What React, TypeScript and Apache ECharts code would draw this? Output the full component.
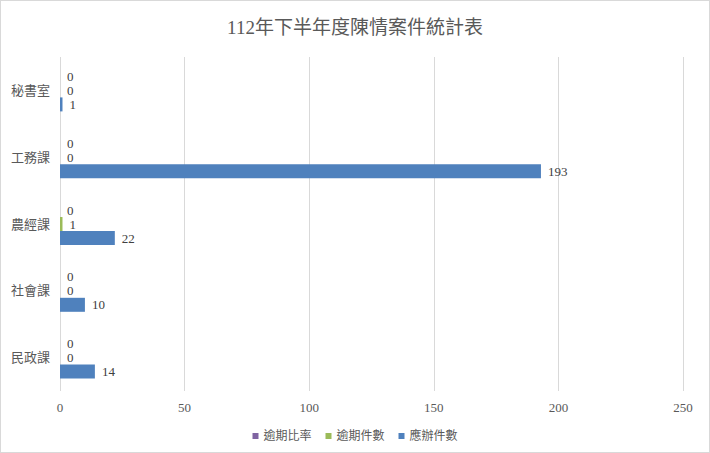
import React, { useEffect, useRef } from "react";
import * as echarts from "echarts";

const categories = ["民政課", "社會課", "農經課", "工務課", "秘書室"];
const overdueRate = [0, 0, 0, 0, 0];
const overdueCount = [0, 0, 1, 0, 0];
const totalCount = [14, 10, 22, 193, 1];
const xTicks = { min: 0, max: 250, interval: 50 };

const FONT = "'Liberation Serif', 'Noto Sans CJK TC', serif";

export default function App() {
  const ref = useRef<HTMLDivElement>(null);
  useEffect(() => {
    document.body.style.margin = "0";
    const chart = echarts.init(ref.current!, undefined, { renderer: "svg" });
    const label = {
      show: true,
      position: "right" as const,
      distance: 7,
      color: "#404040",
      fontSize: 13,
      fontFamily: FONT,
      textBorderWidth: 0,
    };
    chart.setOption({
      animation: false,
      backgroundColor: "#fff",
      title: {
        text: "112年下半年度陳情案件統計表",
        left: "center",
        top: 12,
        textStyle: { fontSize: 19, fontWeight: "normal", color: "#595959", fontFamily: FONT },
      },
      legend: {
        data: ["逾期比率", "逾期件數", "應辦件數"],
        left: "center",
        top: 424,
        icon: "rect",
        itemWidth: 6,
        itemHeight: 6,
        itemGap: 14,
        textStyle: { fontSize: 12, color: "#595959", fontFamily: FONT },
      },
      grid: { left: 59, right: 26, top: 56, bottom: 61, containLabel: false },
      xAxis: {
        type: "value",
        min: xTicks.min,
        max: xTicks.max,
        interval: xTicks.interval,
        axisLine: { show: false },
        axisTick: { show: false },
        axisLabel: { color: "#595959", fontSize: 13, fontFamily: FONT, margin: 10 },
        splitLine: { lineStyle: { color: "#d9d9d9", width: 1 } },
      },
      yAxis: {
        type: "category",
        data: categories,
        axisLine: { show: false },
        axisTick: { show: false },
        axisLabel: { color: "#595959", fontSize: 13, fontFamily: FONT, margin: 10 },
        splitLine: { show: false },
      },
      series: [
        {
          name: "逾期比率",
          type: "bar",
          data: overdueRate,
          barWidth: 14,
          barGap: "0%",
          itemStyle: { color: "#8064A2" },
          label,
        },
        {
          name: "逾期件數",
          type: "bar",
          data: overdueCount,
          barWidth: 14,
          barGap: "0%",
          itemStyle: { color: "#9BBB59" },
          label,
        },
        {
          name: "應辦件數",
          type: "bar",
          data: totalCount,
          barWidth: 14,
          barGap: "0%",
          itemStyle: { color: "#4F81BD" },
          label,
        },
      ],
    });
    return () => chart.dispose();
  }, []);
  return (
    <div
      ref={ref}
      style={{
        position: "absolute",
        left: 0,
        top: 0,
        width: 710,
        height: 453,
        border: "1px solid #d9d9d9",
        boxSizing: "border-box",
      }}
    />
  );
}
